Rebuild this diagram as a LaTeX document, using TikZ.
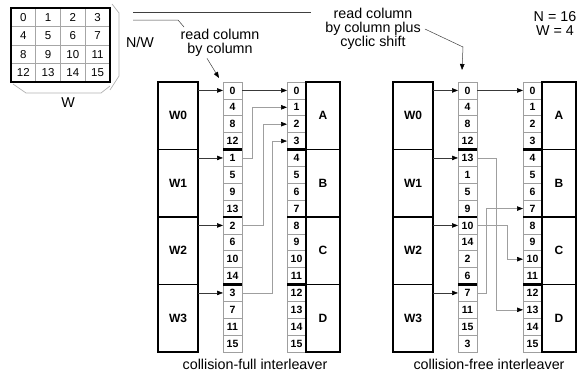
\documentclass[tikz,border=0pt]{standalone}
\usepackage{fontspec}
\setmainfont{Liberation Sans}
\usetikzlibrary{arrows.meta}
\tikzset{
 cell/.style={draw=gray!75, line width=0.6pt, minimum width=19pt, minimum height=16.875pt, inner sep=0pt, outer sep=0pt, anchor=north west, font=\fontsize{10.5}{10.5}\selectfont\bfseries},
 wbox/.style={draw=black, line width=1.2pt, minimum width=40pt, minimum height=67.5pt, inner sep=0pt, outer sep=0pt, anchor=north west, font=\fontsize{12}{12}\selectfont\bfseries},
 bbox/.style={wbox, minimum width=34pt},
 sepline/.style={line width=2.2pt, black},
 conn/.style={draw=gray!45!black, line width=0.6pt, -{Triangle[length=6pt,width=4.5pt,fill=black,color=black]}},
 route/.style={conn, draw=gray!75},
 gridcell/.style={draw=gray!70, line width=0.6pt, minimum width=24.75pt, minimum height=18.5pt, inner sep=0pt, outer sep=0pt, anchor=north west, font=\fontsize{11.5}{11.5}\selectfont},
 bracket/.style={draw=gray!60, line width=0.7pt},
 lbl/.style={font=\fontsize{14.3}{14}\selectfont, align=center, inner sep=0pt},
 callout/.style={draw=gray!50!black, line width=0.5pt},
}
\begin{document}
\begin{tikzpicture}[x=1pt,y=-1pt]
\useasboundingbox (0,0) rectangle (583,372);
% ---------- N/W x W matrix ----------
\foreach \r in {0,...,3}{
  \foreach \c in {0,...,3}{
    \pgfmathtruncatemacro\n{\r*4+\c}
    \node[gridcell] (M-\n) at ({11+\c*24.75},{8+\r*18.5}) {\n};
  }
}
\draw[line width=1.6pt] (M-0.north west) rectangle (M-15.south east);
\draw[bracket] (112,4) -- (119,13) -- (119,76) -- (110,90);
\draw[bracket] (13,84) -- (26,93) -- (101,93) -- (110,86);
\node[lbl] (nw) at (140,42) {N/W};
\node[lbl] (wl) at (68,103) {W};
% ---------- callouts ----------
\draw[callout] (133,12) -- (311,12);
\draw[callout] (133,20) -- (178,20) -- (184,27);
\node[lbl] (t1) at (220,42.5) {read column\\by column};
\node[lbl] (t2) at (373,29) {read column\\by column plus\\cyclic shift};
\node[lbl] (nn) at (555,23.5) {N = 16\\W = 4};
\node[lbl] (c1) at (255,364) {collision-full interleaver};
\node[lbl] (c2) at (489,364) {collision-free interleaver};
% ---------- left interleaver ----------
\foreach \v [count=\i from 0] in {0,4,8,12,1,5,9,13,2,6,10,14,3,7,11,15}
  \node[cell] (L1-\i) at (223,{82+\i*16.875}) {\v};
\foreach \i in {0,...,15}
  \node[cell] (L2-\i) at (287,{82+\i*16.875}) {\i};
\foreach \k/\t in {0/A,1/B,2/C,3/D}{
  \node[wbox] (LW\k) at (158,{82+\k*67.5}) {W\k};
  \node[bbox] (LB\k) at (306,{82+\k*67.5}) {\t};
}
\foreach \j in {3,7,11}{
  \draw[sepline] (L1-\j.south west) -- (L1-\j.south east);
  \draw[sepline] (L2-\j.south west) -- (L2-\j.south east);
}
\draw[conn] (LW0.east |- L1-0) -- (L1-0.west);
\draw[conn] (LW1.east |- L1-4) -- (L1-4.west);
\draw[conn] (LW2.east |- L1-8) -- (L1-8.west);
\draw[conn] (LW3.east |- L1-12) -- (L1-12.west);
\draw[conn] (L1-0.east) -- (L2-0.west);
\draw[route] (L1-4.east) -- ++(10,0) |- (L2-1.west);
\draw[route] (L1-8.east) -- ++(21,0) |- (L2-2.west);
\draw[route] (L1-12.east) -- ++(30,0) |- (L2-3.west);
% ---------- right interleaver ----------
\foreach \v [count=\i from 0] in {0,4,8,12,13,1,5,9,10,14,2,6,7,11,15,3}
  \node[cell] (R1-\i) at (458,{82+\i*16.875}) {\v};
\foreach \i in {0,...,15}
  \node[cell] (R2-\i) at (523,{82+\i*16.875}) {\i};
\foreach \k/\t in {0/A,1/B,2/C,3/D}{
  \node[wbox] (RW\k) at (393,{82+\k*67.5}) {W\k};
  \node[bbox] (RB\k) at (542,{82+\k*67.5}) {\t};
}
\foreach \j in {3,7,11}{
  \draw[sepline] (R1-\j.south west) -- (R1-\j.south east);
  \draw[sepline] (R2-\j.south west) -- (R2-\j.south east);
}
\draw[conn] (RW0.east |- R1-0) -- (R1-0.west);
\draw[conn] (RW1.east |- R1-4) -- (R1-4.west);
\draw[conn] (RW2.east |- R1-8) -- (R1-8.west);
\draw[conn] (RW3.east |- R1-12) -- (R1-12.west);
\draw[conn] (R1-0.east) -- (R2-0.west);
\draw[route] (R1-4.east) -- ++(19,0) |- (R2-13.west);
\draw[route] (R1-8.east) -- ++(30,0) |- (R2-10.west);
\draw[route] (R1-12.east) -- ++(9,0) |- (R2-7.west);
% ---------- callout arrows ----------
\draw[callout, -{Triangle[length=6pt,width=4.5pt,fill=black,color=black]}] ([xshift=-13pt,yshift=-2pt]t1.south) -- ([shift={(-4,-4)}]L1-0.north west);
\draw[callout, -{Triangle[length=6pt,width=4.5pt,fill=black,color=black]}] ([shift={(4,0)}]t2.east) -- (463,47) -- ([shift={(4,-12)}]R1-0.north west);
\end{tikzpicture}
\end{document}
